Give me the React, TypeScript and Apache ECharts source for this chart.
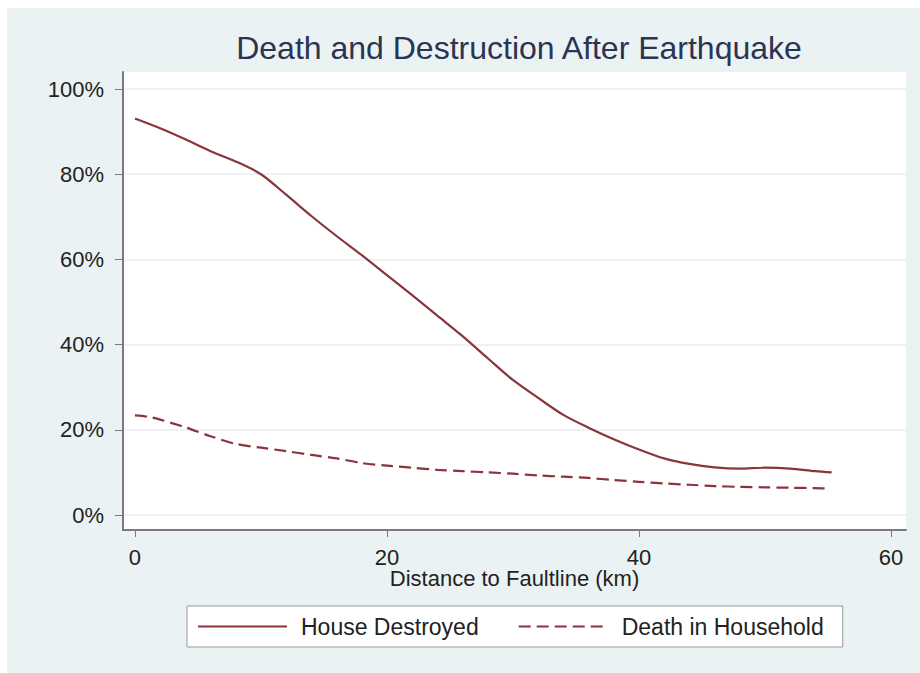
import React, { useEffect, useRef } from "react";
import * as echarts from "echarts";

const distanceKm = [0, 2, 4, 6, 8, 10, 12, 14, 16, 18, 20, 22, 24, 26, 28, 30, 32, 34, 36, 38, 40, 42, 44, 46, 48, 50, 52, 54, 55.3];
const houseDestroyed = [93.1, 90.8, 88.2, 85.4, 83.0, 80.0, 75.2, 70.2, 65.5, 61.0, 56.3, 51.6, 46.8, 42.0, 36.8, 31.7, 27.5, 23.5, 20.5, 17.8, 15.4, 13.3, 12.0, 11.2, 10.9, 11.1, 10.9, 10.3, 10.0];

const deathDistanceKm = [0, 1, 2, 3, 4, 6, 8, 10, 12, 14, 16, 18, 20, 22, 24, 26, 28, 30, 32, 34, 36, 38, 40, 42, 44, 46, 48, 50, 52, 54, 55];
const deathInHousehold = [23.4, 23.1, 22.4, 21.5, 20.6, 18.5, 16.7, 15.8, 15.0, 14.1, 13.3, 12.2, 11.6, 11.1, 10.6, 10.3, 10.0, 9.7, 9.3, 9.0, 8.7, 8.2, 7.8, 7.4, 7.1, 6.8, 6.6, 6.5, 6.4, 6.3, 6.2];

const yTicks = [0, 20, 40, 60, 80, 100];
const xTicks = [0, 20, 40, 60];

const LINE_COLOR = "#8a353c";
const FONT = "'Liberation Sans', Arial, sans-serif";

export default function App() {
  const ref = useRef<HTMLDivElement>(null);
  useEffect(() => {
    if (!ref.current) return;
    const chart = echarts.init(ref.current, null, { renderer: "svg" });
    chart.setOption({
      animation: false,
      backgroundColor: "#eaf2f3",
      textStyle: { fontFamily: FONT },
      title: {
        text: "Death and Destruction After Earthquake",
        left: 507,
        textAlign: "center",
        top: 19,
        textStyle: { fontSize: 32, fontWeight: "normal", color: "#2b3452", fontFamily: FONT },
      },
      grid: {
        left: 116,
        right: 14,
        top: 64,
        bottom: 143,
        show: true,
        backgroundColor: "#ffffff",
        borderWidth: 0,
      },
      legend: {
        left: 180,
        top: 598,
        itemWidth: 89,
        itemHeight: 14,
        itemGap: 39,
        padding: [9, 19, 9, 10],
        backgroundColor: "#ffffff",
        borderColor: "#999999",
        borderWidth: 1,
        borderRadius: 0,
        itemStyle: { color: "transparent", borderWidth: 0, opacity: 0 },
        textStyle: { fontSize: 23, color: "#222", fontFamily: FONT, padding: [0, 0, 0, 9] },
        data: [{ name: "House Destroyed" }, { name: "Death in Household" }],
      },
      xAxis: {
        type: "value",
        min: -0.95,
        max: 61.2,
        name: "Distance to Faultline (km)",
        nameLocation: "middle",
        nameGap: 37,
        nameMoveOverlap: false,
        nameTextStyle: { fontSize: 22, color: "#222", fontFamily: FONT },
        axisLine: { show: true, onZero: false, lineStyle: { color: "#7a7a7a", width: 2 } },
        axisTick: { show: true, length: 7, lineStyle: { color: "#7a7a7a" }, customValues: xTicks },
        axisLabel: { fontSize: 22, color: "#222", margin: 16, customValues: xTicks, formatter: (v: number) => String(v) },
        splitLine: { show: false },
      },
      yAxis: {
        type: "value",
        min: -3.52,
        max: 104,
        axisLine: { show: true, onZero: false, lineStyle: { color: "#7a7a7a", width: 2 } },
        axisTick: { show: true, length: 8, lineStyle: { color: "#7a7a7a" }, customValues: yTicks },
        axisLabel: { fontSize: 22, color: "#222", margin: 19, customValues: yTicks, formatter: (v: number) => v + "%" },
        splitLine: { show: false },
      },
      series: [
        {
          name: "House Destroyed",
          type: "line",
          data: distanceKm.map((d, i) => [d, houseDestroyed[i]]),
          showSymbol: false,
          symbol: "none",
          smooth: 0.3,
          lineStyle: { color: LINE_COLOR, width: 2.2, type: "solid" },
          itemStyle: { color: LINE_COLOR },
          markLine: {
            silent: true,
            symbol: "none",
            label: { show: false },
            lineStyle: { color: "#eef2f4", width: 2, type: "solid" },
            data: yTicks.map((v) => ({ yAxis: v })),
            z: 0,
          },
          z: 3,
        },
        {
          name: "Death in Household",
          type: "line",
          data: deathDistanceKm.map((d, i) => [d, deathInHousehold[i]]),
          showSymbol: false,
          symbol: "none",
          smooth: 0.3,
          lineStyle: { color: LINE_COLOR, width: 2.2, type: [12, 6] },
          itemStyle: { color: LINE_COLOR },
          z: 3,
        },
      ],
    });
    return () => chart.dispose();
  }, []);
  return (
    <div
      style={{ position: "absolute", left: 7, top: 8, width: 913, height: 665 }}
      ref={ref}
    />
  );
}
